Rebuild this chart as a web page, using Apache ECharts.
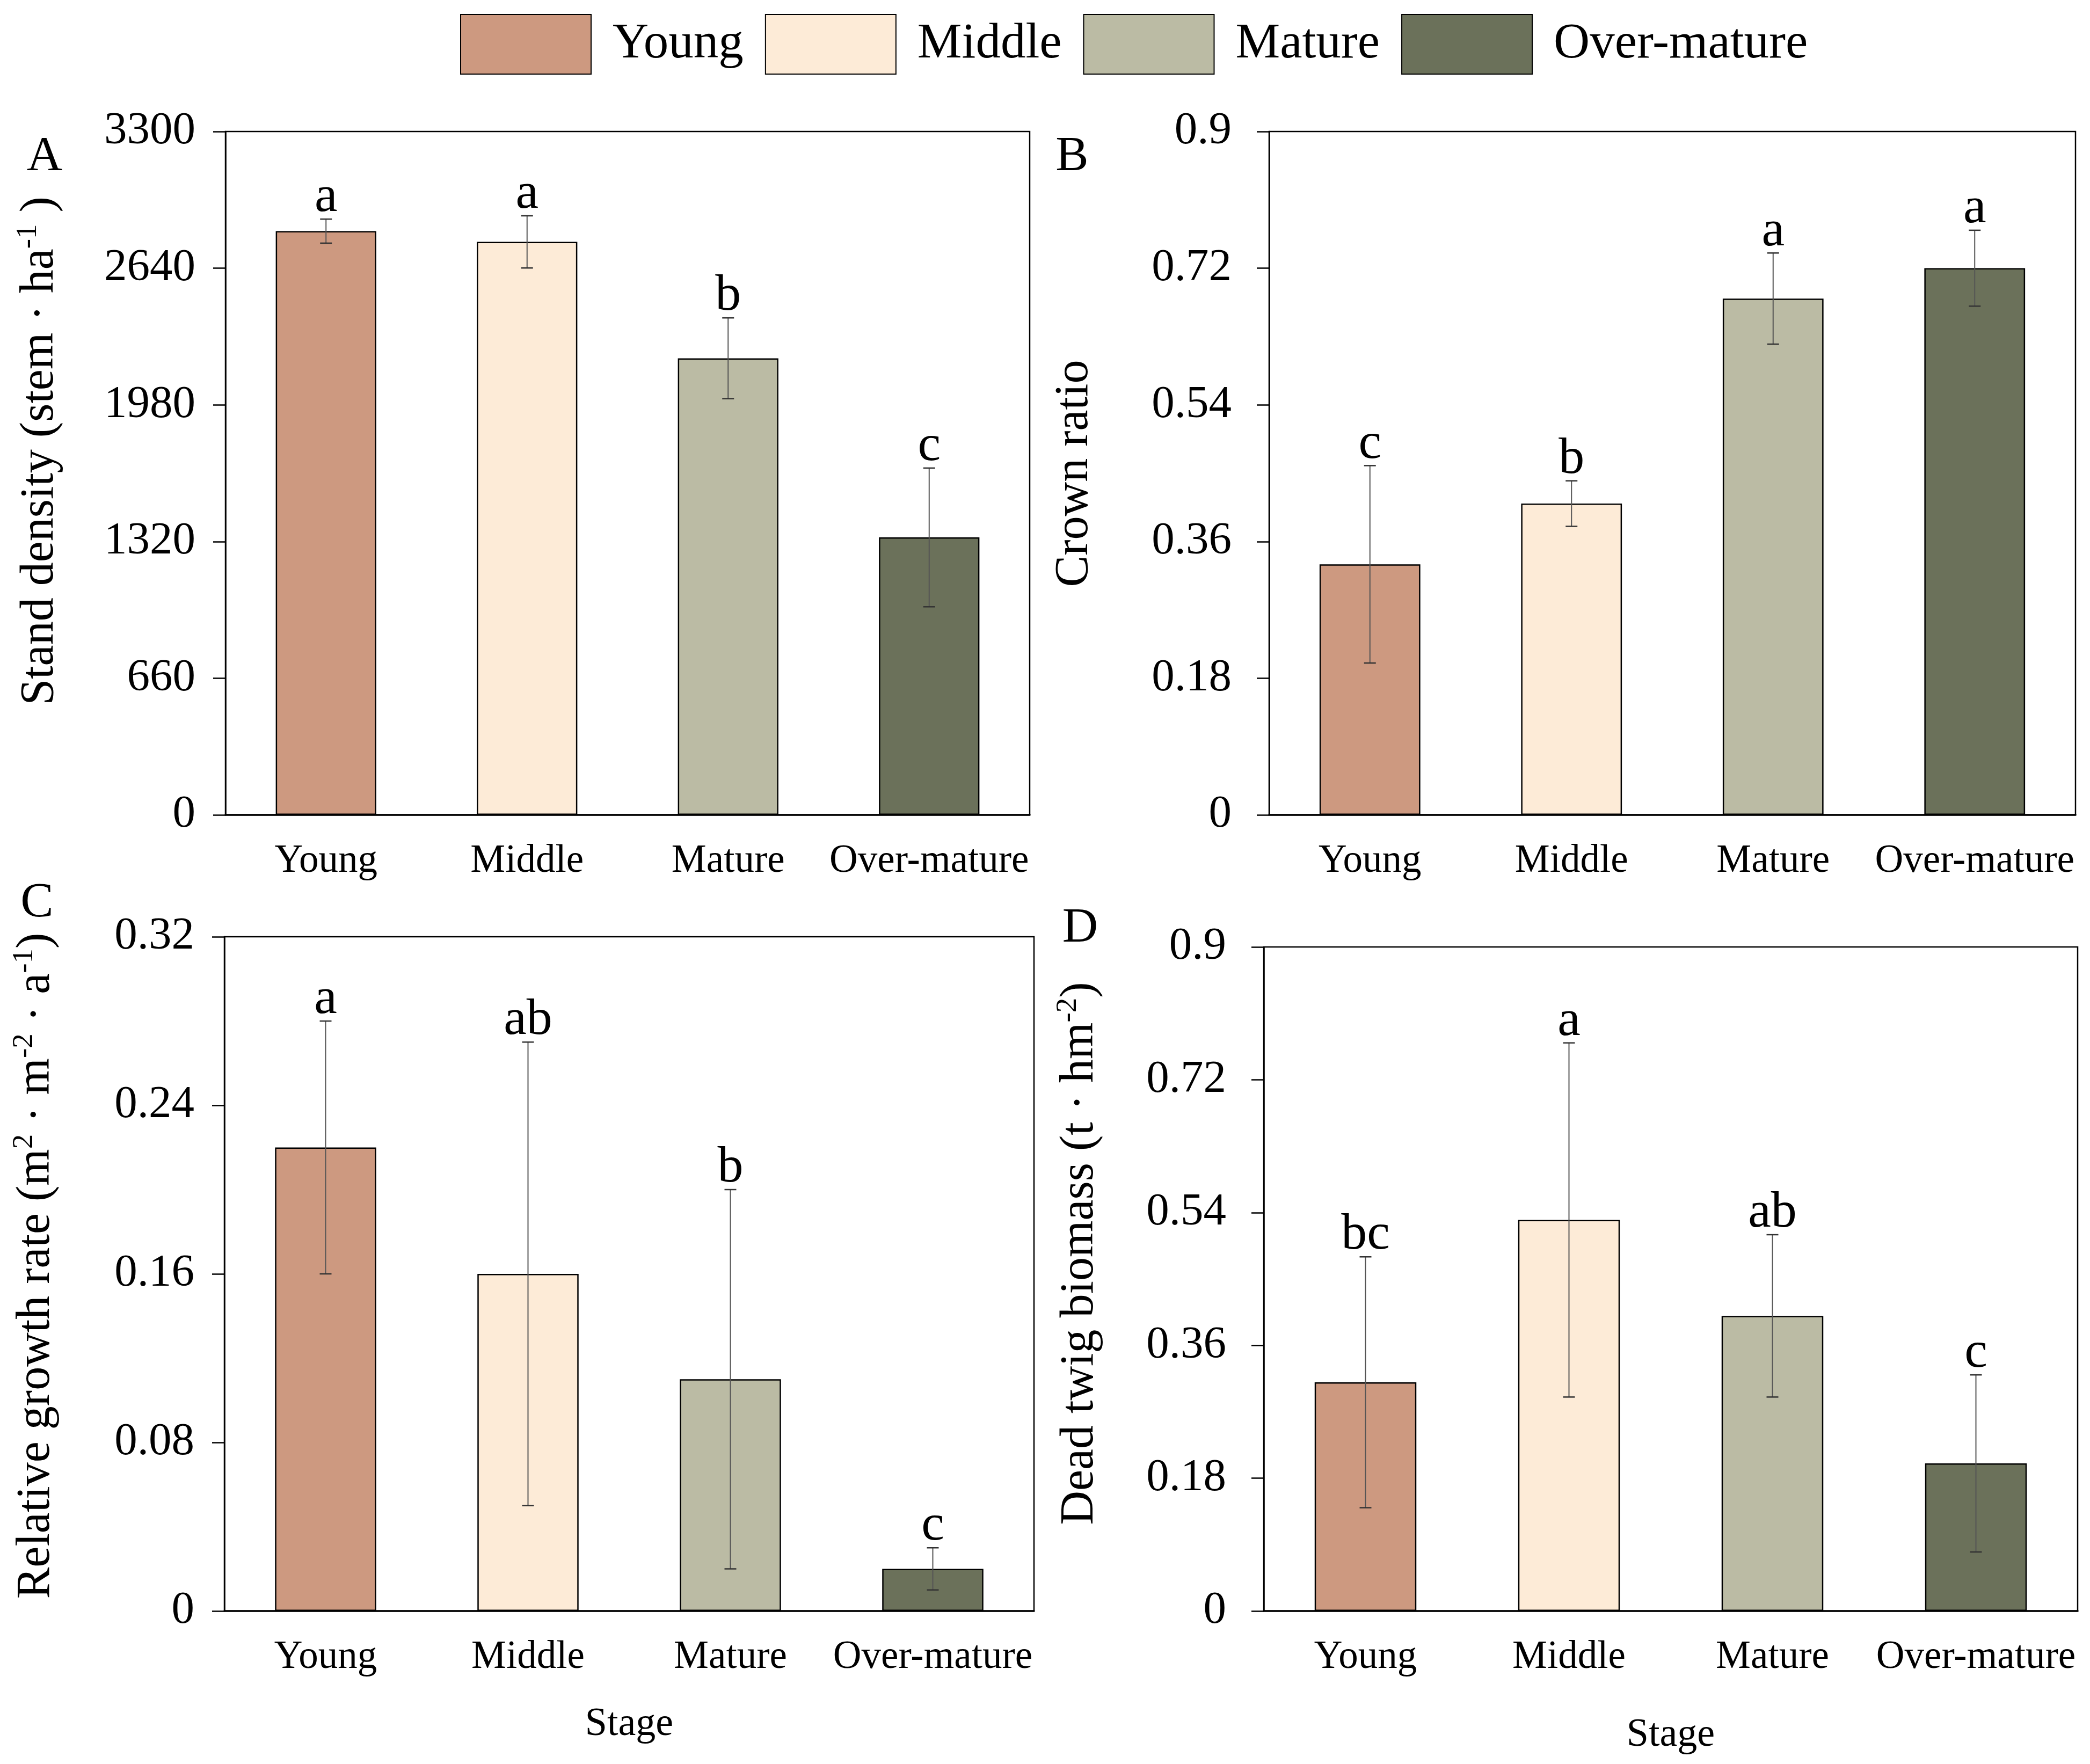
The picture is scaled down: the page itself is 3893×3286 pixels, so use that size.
<!DOCTYPE html>
<html><head><meta charset="utf-8">
<script src="https://cdn.jsdelivr.net/npm/echarts@6/dist/echarts.min.js"></script>
<style>html,body{margin:0;padding:0;background:#fff}#c{width:3893px;height:3286px}</style>
</head><body><div id="c"></div>
<script>
// ---- data ----
const stages = ['Young', 'Middle', 'Mature', 'Over-mature'];
const stageColors = ['#CD9980', '#FDEBD7', '#BBBBA4', '#6B715A'];

const densityMean = [2819, 2767, 2205, 1340];
const densitySd = [58, 126, 195, 335];
const densityLetters = ['a', 'a', 'b', 'c'];
const densityTicks = [0, 660, 1320, 1980, 2640, 3300];

const crownMean = [0.33, 0.41, 0.68, 0.72];
const crownSd = [0.13, 0.03, 0.06, 0.05];
const crownLetters = ['c', 'b', 'a', 'a'];
const crownTicks = [0, 0.18, 0.36, 0.54, 0.72, 0.9];

const growthMean = [0.22, 0.16, 0.11, 0.02];
const growthSd = [0.06, 0.11, 0.09, 0.01];
const growthLetters = ['a', 'ab', 'b', 'c'];
const growthTicks = [0, 0.08, 0.16, 0.24, 0.32];

const twigMean = [0.31, 0.53, 0.40, 0.20];
const twigSd = [0.17, 0.24, 0.11, 0.12];
const twigLetters = ['bc', 'a', 'ab', 'c'];
const twigTicks = [0, 0.18, 0.36, 0.54, 0.72, 0.9];

// ---- layout / style ----
const FONT = "'Liberation Serif','Times New Roman',serif";
const panels = [
  { mean: densityMean, sd: densitySd, letters: densityLetters, ticks: densityTicks,
    grid: { left: 420, top: 245, width: 1498, height: 1273 }, labelMargin: 56, stage: false },
  { mean: crownMean, sd: crownSd, letters: crownLetters, ticks: crownTicks,
    grid: { left: 2364, top: 245, width: 1502, height: 1273 }, labelMargin: 70, stage: false },
  { mean: growthMean, sd: growthSd, letters: growthLetters, ticks: growthTicks,
    grid: { left: 418, top: 1745, width: 1508, height: 1256 }, labelMargin: 56, stage: true, nameGap: 175 },
  { mean: twigMean, sd: twigSd, letters: twigLetters, ticks: twigTicks,
    grid: { left: 2354, top: 1764, width: 1516, height: 1237 }, labelMargin: 70, stage: true, nameGap: 195 }
];

const grids = [], xAxes = [], yAxes = [], series = [];
panels.forEach((p, pi) => {
  grids.push(Object.assign({ show: true, borderColor: '#000', borderWidth: 2.5, backgroundColor: 'transparent' }, p.grid));
  xAxes.push({
    type: 'category', gridIndex: pi, data: stages,
    axisLine: { lineStyle: { color: '#000', width: 3.5 } },
    axisTick: { alignWithLabel: true, length: 24, lineStyle: { color: '#000', width: 2 } },
    axisLabel: { fontFamily: FONT, fontSize: 73, color: '#000', margin: 50, interval: 0 },
    name: p.stage ? 'Stage' : '', nameLocation: 'middle', nameGap: p.nameGap || 0,
    nameTextStyle: { fontFamily: FONT, fontSize: 74, color: '#000' }
  });
  const tmax = p.ticks[p.ticks.length - 1];
  const tint = p.ticks[1] - p.ticks[0];
  yAxes.push({
    type: 'value', gridIndex: pi, min: p.ticks[0], max: tmax, interval: tint,
    axisLine: { show: true, lineStyle: { color: '#000', width: 2.5 } },
    axisTick: { show: true, length: 23, lineStyle: { color: '#000', width: 2.5 } },
    splitLine: { show: false },
    axisLabel: { fontFamily: FONT, fontSize: 85, color: '#000', margin: p.labelMargin,
      formatter: v => String(+v.toFixed(2)) }
  });
  stages.forEach((s, si) => {
    series.push({
      type: 'bar', name: s, xAxisIndex: pi, yAxisIndex: pi,
      barWidth: '50%', barGap: '-100%', z: 2,
      itemStyle: { color: stageColors[si], borderColor: '#000', borderWidth: 2.5 },
      data: p.mean.map((v, i) => (i === si ? v : '-'))
    });
  });
  series.push({
    type: 'custom', name: 'err' + pi, xAxisIndex: pi, yAxisIndex: pi, z: 5,
    encode: { x: 0, y: [1, 2] },
    data: p.mean.map((v, i) => [i, v - p.sd[i], v + p.sd[i]]),
    renderItem: (params, api) => {
      const i = api.value(0);
      const lo = api.coord([i, api.value(1)]);
      const hi = api.coord([i, api.value(2)]);
      const x = hi[0], w = 11;
      return {
        type: 'group', children: [
          { type: 'line', shape: { x1: x, y1: lo[1], x2: x, y2: hi[1] }, style: { stroke: '#555', lineWidth: 2 } },
          { type: 'line', shape: { x1: x - w, y1: hi[1], x2: x + w, y2: hi[1] }, style: { stroke: '#333', lineWidth: 2.5 } },
          { type: 'line', shape: { x1: x - w, y1: lo[1], x2: x + w, y2: lo[1] }, style: { stroke: '#333', lineWidth: 2.5 } },
          { type: 'text', style: { text: p.letters[params.dataIndex], x: x, y: hi[1] - 40, fill: '#000',
              font: '96px ' + FONT, align: 'center', verticalAlign: 'middle',
              textAlign: 'center', textVerticalAlign: 'middle' } }
        ]
      };
    }
  });
});

function richTitle(text) {
  return {
    text: text,
    fill: '#000',
    align: 'center', verticalAlign: 'middle',
    textAlign: 'center', textVerticalAlign: 'middle',
    rich: {
      n: { fontSize: 88, fontFamily: FONT, lineHeight: 100, fill: '#000' },
      sup: { fontSize: 55, fontFamily: FONT, verticalAlign: 'top', fill: '#000' }
    }
  };
}
function letter(t, x, y) {
  return { type: 'text', x: x, y: y, style: { text: t, fill: '#000', font: '92px ' + FONT,
    align: 'center', verticalAlign: 'middle', textAlign: 'center', textVerticalAlign: 'middle' } };
}

const graphics = [
  letter('A', 83, 293), letter('B', 1997, 293), letter('C', 69, 1683), letter('D', 2012, 1730),
  { type: 'text', x: 75, y: 840, rotation: Math.PI / 2,
    style: richTitle('{n|Stand density (stem · ha}{sup|-1}{n| )}') },
  { type: 'text', x: 2002, y: 882, rotation: Math.PI / 2,
    style: richTitle('{n|Crown ratio}') },
  { type: 'text', x: 68, y: 2358, rotation: Math.PI / 2,
    style: richTitle('{n|Relative growth rate (m}{sup|2}{n| · m}{sup|-2}{n| · a}{sup|-1}{n|)}') },
  { type: 'text', x: 2012, y: 2335, rotation: Math.PI / 2,
    style: richTitle('{n|Dead twig biomass (t · hm}{sup|-2}{n|)}') }
];

const chart = echarts.init(document.getElementById('c'), null, { renderer: 'canvas' });
chart.setOption({
  animation: false,
  backgroundColor: '#fff',
  textStyle: { fontFamily: FONT },
  legend: {
    data: stages, left: 857, top: 26, padding: 0, orient: 'horizontal',
    icon: 'rect', itemWidth: 243, itemHeight: 111, itemGap: 40, selectedMode: false,
    itemStyle: { borderColor: '#000', borderWidth: 2 },
    textStyle: { fontFamily: FONT, fontSize: 93, color: '#000', padding: [0, 0, 0, 35] }
  },
  grid: grids, xAxis: xAxes, yAxis: yAxes, series: series, graphic: graphics
});
</script>
</body></html>
